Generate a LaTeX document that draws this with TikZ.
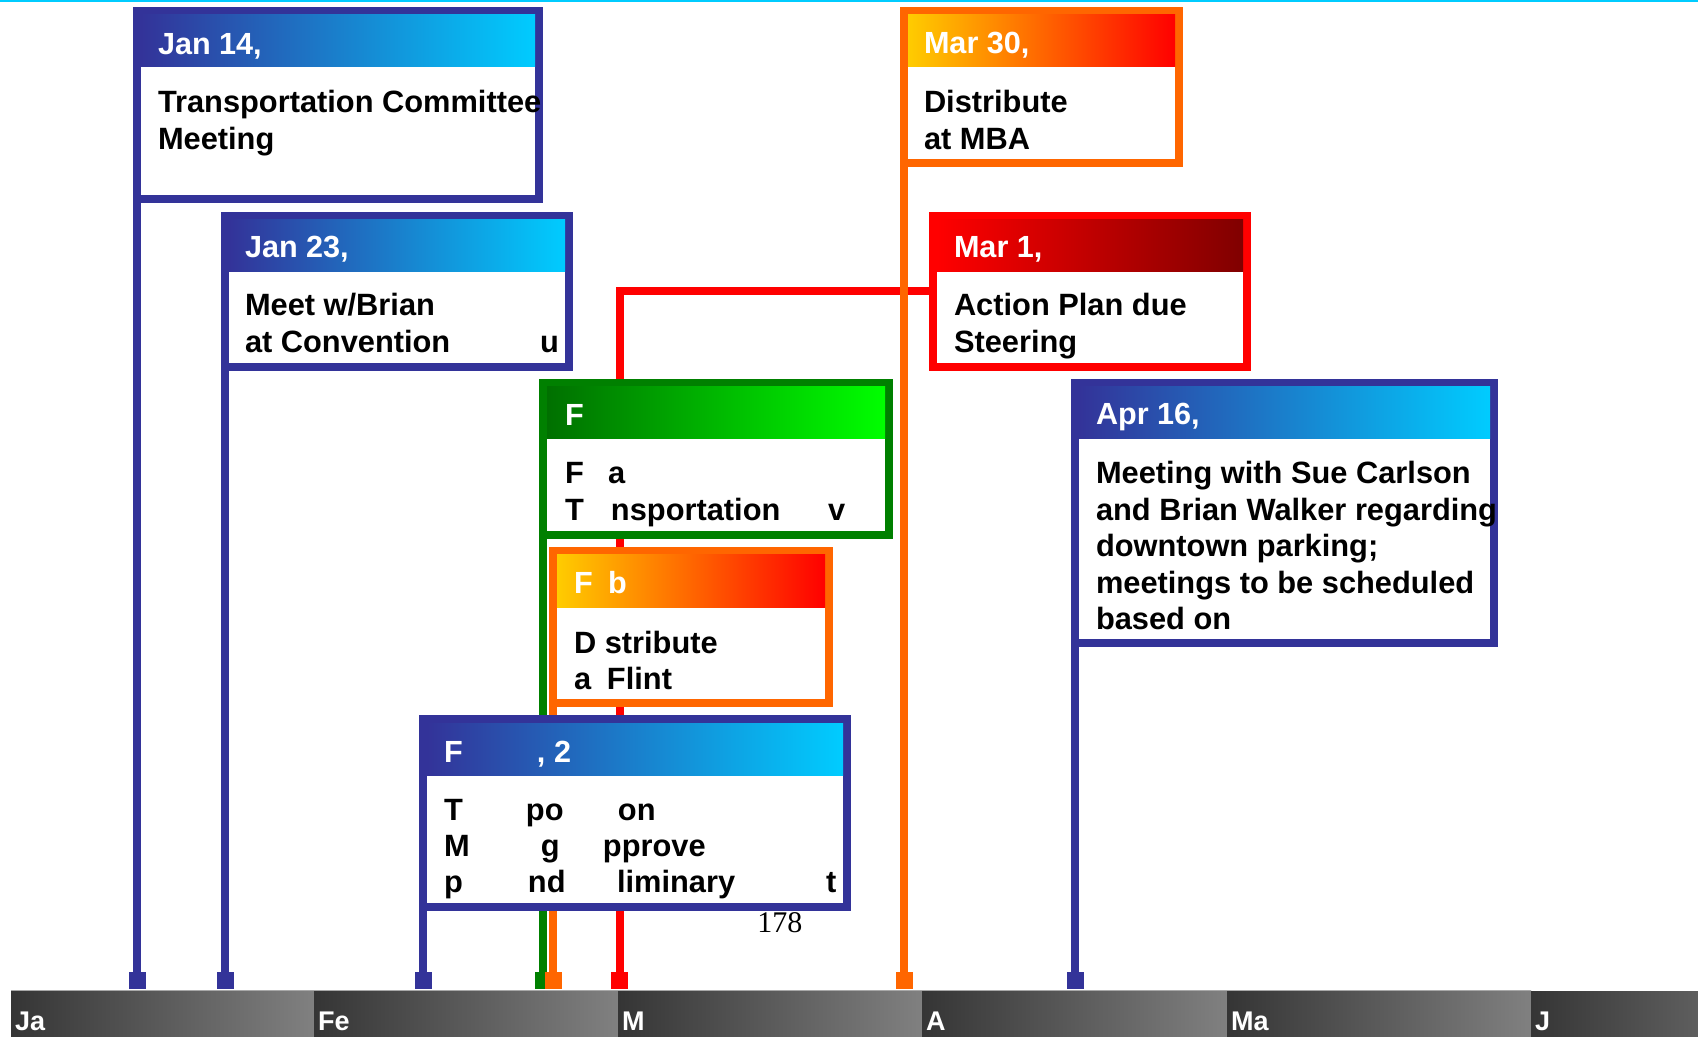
\documentclass[tikz,border=0pt]{standalone}
\usepackage{fontspec}
\setmainfont{Liberation Sans}
\newfontfamily\serifnum{Liberation Serif}
\usetikzlibrary{calc}
\pgfdeclarelayer{bg}
\pgfsetlayers{bg,main}
\definecolor{cblue}{HTML}{333399}
\definecolor{ccyan}{HTML}{00CCFF}
\definecolor{corange}{HTML}{FF6600}
\definecolor{cyellow}{HTML}{FFCC00}
\definecolor{cred}{HTML}{FF0000}
\definecolor{cdred}{HTML}{800000}
\definecolor{cgreen}{HTML}{008000}
\definecolor{cdgreen}{HTML}{007000}
\definecolor{clgreen}{HTML}{00FF00}
\definecolor{segdark}{HTML}{353535}
\definecolor{seglight}{HTML}{808080}
\definecolor{segtop}{HTML}{A8A8A8}
\tikzset{
 evbox/.style={rectangle, anchor=north west, fill=white, line width=4pt, inner sep=0pt, outer sep=0pt},
 hdr/.style={anchor=base west, inner sep=0pt, outer sep=0pt, text=white, font=\bfseries\fontsize{15.3pt}{18.2pt}\selectfont},
 bodytxt/.style={anchor=base west, inner sep=0pt, outer sep=0pt, text=black, font=\bfseries\fontsize{15.4pt}{18.2pt}\selectfont},
 tickbox/.style={rectangle, minimum size=8.5pt, inner sep=0pt, outer sep=0pt},
 conn/.style={line width=4pt},
 mon/.style={anchor=base west, inner sep=0pt, outer sep=0pt, text=white, font=\bfseries\fontsize{13.5pt}{15pt}\selectfont},
}
\newcommand\tlbox[8]{%
 \node[evbox, draw=#6, minimum width={(#4-#2-8)*0.5pt}, minimum height={(#5-#3-8)*0.5pt}] (#1) at ({#2+4},{#3+4}) {};
 \shade[left color=#7, right color=#8] ({#2+8},{#3+8}) rectangle ({#4-8},{#3+60});
}
\newcommand\bodylines[1]{\parbox[t]{10cm}{\raggedright #1}}
\begin{document}
\begin{tikzpicture}[x=0.5pt,y=-0.5pt]
\useasboundingbox (0,0) rectangle (1698,1037);
\begin{pgfonlayer}{bg}
\fill[white] (0,0) rectangle (1698,1037);
\end{pgfonlayer}
\fill[ccyan] (0,0) rectangle (1698,2.5);

% timeline
\foreach \a/\b in {11/314,314/618,618/922,922/1227,1227/1531}{
  \shade[left color=segdark, right color=seglight] (\a,990) rectangle (\b,1037);
  \fill[segtop] (\a,989.5) rectangle (\b,991);
}
\shade[left color=segdark, right color=seglight] (1531,991) rectangle (1835,1037);
\node[mon] (mja) at (15,1030) {Ja};
\node[mon] (mfe) at (318,1030) {Fe};
\node[mon] (mmr) at (622,1030) {M};
\node[mon] (map) at (926,1030) {A};
\node[mon] (mma) at (1231,1030) {Ma};
\node[mon] (mjn) at (1535,1030) {J};

% markers
\node[tickbox, fill=cblue] (k1) at (137,980.5) {};
\node[tickbox, fill=cblue] (k2) at (225,980.5) {};
\node[tickbox, fill=cblue] (k3) at (423,980.5) {};
\node[tickbox, fill=cgreen] (k4) at (543,980.5) {};
\node[tickbox, fill=corange] (k5) at (553,980.5) {};
\node[tickbox, fill=cred] (k6) at (619.5,980.5) {};
\node[tickbox, fill=corange] (k7) at (904,980.5) {};
\node[tickbox, fill=cblue] (k8) at (1075,980.5) {};

% boxes
\tlbox{jan14}{133}{7}{543}{203}{cblue}{cblue}{ccyan}
\node[hdr] (jan14h) at (158,55) {Jan 14,};
\node[bodytxt] (jan14b) at (158,113) {\bodylines{Transportation Committee\\Meeting}};

\tlbox{jan23}{221}{212}{573}{371}{cblue}{cblue}{ccyan}
\node[hdr] (jan23h) at (245,258) {Jan 23,};
\node[bodytxt] (jan23b) at (245,316) {\bodylines{Meet w/Brian\\\makebox[147.5pt][l]{at Convention}u}};

\tlbox{mar30}{900}{7}{1183}{167}{corange}{cyellow}{cred}
\node[hdr] (mar30h) at (924,54) {Mar 30,};
\node[bodytxt] (mar30b) at (924,113) {\bodylines{Distribute\\at MBA}};

\tlbox{mar1}{929}{212}{1251}{371}{cred}{cred}{cdred}
\node[hdr] (mar1h) at (954,258) {Mar 1,};
\node[bodytxt] (mar1b) at (954,316) {\bodylines{Action Plan due\\Steering}};

\tlbox{grn}{539}{379}{893}{539}{cgreen}{cdgreen}{clgreen}
\node[hdr] (grnh) at (565,426) {F};
\node[bodytxt] (grnb) at (565,484) {\bodylines{\makebox[21.5pt][l]{F}a\\\makebox[23pt][l]{T}\makebox[108.5pt][l]{nsportation}v}};

\tlbox{feb}{549}{547}{833}{707}{corange}{cyellow}{cred}
\node[hdr] (febh) at (574,594) {\makebox[17pt][l]{F}b};
\node[bodytxt] (febb) at (574,653) {\bodylines{D stribute\\\makebox[16.5pt][l]{a}Flint}};

\tlbox{fbt}{419}{715}{851}{911}{cblue}{cblue}{ccyan}
\node[hdr] (fbth) at (444,762) {\makebox[46.5pt][l]{F}, 2};
\node[bodytxt] (fbtb) at (444,820) {\bodylines{\makebox[41pt][l]{T}\makebox[46pt][l]{po}on\\\makebox[48.5pt][l]{M}\makebox[31pt][l]{g}pprove\\\makebox[42pt][l]{p}\makebox[44.5pt][l]{nd}\makebox[104.5pt][l]{liminary}t}};

\tlbox{apr}{1071}{379}{1498}{647}{cblue}{cblue}{ccyan}
\node[hdr] (aprh) at (1096,425) {Apr 16,};
\node[bodytxt] (aprb) at (1096,484) {\bodylines{Meeting with Sue Carlson\\and Brian Walker regarding\\downtown parking;\\meetings to be scheduled\\based on}};

\node[anchor=base west, inner sep=0pt, font=\serifnum\fontsize{15pt}{18pt}\selectfont] (pg) at (757,932) {178};

% connectors (behind boxes)
\begin{pgfonlayer}{bg}
\draw[conn, cred] (mar1.west) -| (k6.north);
\draw[conn, cblue] (jan14.south west) -- (jan14.south west |- k1.north);
\draw[conn, cblue] (jan23.south west) -- (jan23.south west |- k2.north);
\draw[conn, cblue] (fbt.south west) -- (fbt.south west |- k3.north);
\draw[conn, cgreen] (grn.south west) -- (grn.south west |- k4.north);
\draw[conn, corange] (feb.south west) -- (feb.south west |- k5.north);
\draw[conn, corange] (mar30.south west) -- (mar30.south west |- k7.north);
\draw[conn, cblue] (apr.south west) -- (apr.south west |- k8.north);
\end{pgfonlayer}
\end{tikzpicture}
\end{document}
